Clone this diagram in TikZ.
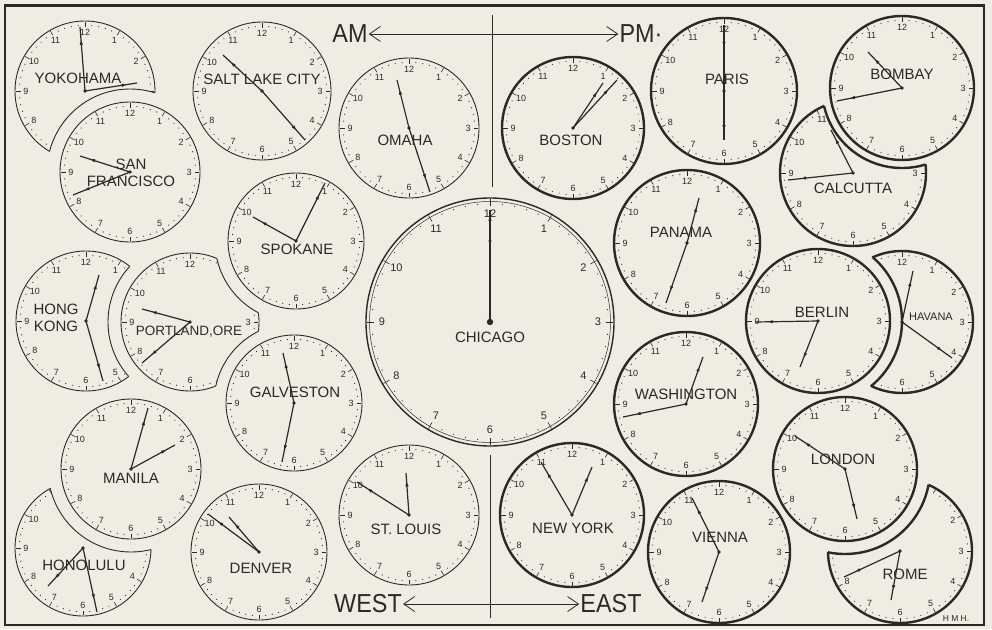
\documentclass[tikz,border=0pt]{standalone}
\usepackage{fontspec}
\setmainfont{Liberation Sans}
\newfontfamily\bigletters[FakeStretch=0.9]{Liberation Sans}
\usetikzlibrary{arrows.meta,decorations.markings}
\definecolor{ink}{HTML}{2A2926}
\definecolor{paper}{HTML}{EFEDE3}
\tikzset{
  hourtick/.style={ink, line width=0.6pt},
  numeral/.style={font=\fontsize{9}{9}\selectfont, text=ink, inner sep=0pt},
  city/.style={font=\fontsize{15}{17}\selectfont, text=ink, inner sep=0pt, align=center},
  big/.style={font=\bigletters\fontsize{26}{26}\selectfont, text=ink, inner sep=1pt},
  hand/.style={ink, line width=1.2pt, postaction={decorate},
    decoration={markings, mark=at position #1 with {\arrow{Latex[length=5pt,width=3.6pt]}}}},
  hand/.default=0.8,
  twoway/.style={{Straight Barb[length=11pt,width=15pt]}-{Straight Barb[length=11pt,width=15pt]},
    ink, line width=0.8pt},
  divider/.style={ink, line width=0.8pt},
}
\newcommand{\numgap}{11}
\newcommand{\dotgap}{4.3}
\newcommand{\tickgap}{5.5}
% bites taken out of the dial being drawn (far away = none)
\def\ax{-900}\def\ay{-900}\def\ar{1}
\def\bx{-900}\def\by{-900}\def\br{1}
% name, x, y, radius, rim width
\newcommand{\dial}[5]{%
  \coordinate (#1) at (#2,#3);
  \draw[ink, line width=#5] (#1) circle (#4);
  \foreach \m in {0,...,59} {
    \pgfmathtruncatemacro\hr{mod(\m,5)}
    \ifnum\hr=0
      \draw[hourtick] ({#2+(#4-1)*sin(6*\m)},{#3-(#4-1)*cos(6*\m)})
        -- ({#2+(#4-\tickgap)*sin(6*\m)},{#3-(#4-\tickgap)*cos(6*\m)});
    \else
      \fill[ink] ({#2+(#4-\dotgap)*sin(6*\m)},{#3-(#4-\dotgap)*cos(6*\m)}) circle (0.6);
    \fi
  }
  \foreach \h in {1,...,12} {
    \pgfmathsetmacro\px{#2+(#4-\numgap)*sin(30*\h)}
    \pgfmathsetmacro\py{#3-(#4-\numgap)*cos(30*\h)}
    \pgfmathtruncatemacro\shown{and(veclen(\px-\ax,\py-\ay)>\ar+5.5, veclen(\px-\bx,\py-\by)>\br+5.5)}
    \ifnum\shown=1 \node[numeral] (#1-\h) at (\px,\py) {\h};\fi
  }
}
% dial with a bite taken out by a neighbour: ..., neighbour x, y, clearance
\newcommand{\cutdial}[8]{%
  \begin{scope}[even odd rule]
    \def\ax{#6}\def\ay{#7}\def\ar{#8}
    \clip (-20,-20) rectangle (1012,649) (#6,#7) circle (#8);
    \dial{#1}{#2}{#3}{#4}{#5}
  \end{scope}
  \begin{scope}
    \clip (#2,#3) circle (#4);
    \draw[ink, line width=#5] (#6,#7) circle (#8);
  \end{scope}}

\begin{document}
\begin{tikzpicture}[x=1pt,y=-1pt]
  \useasboundingbox (0,0) rectangle (992,629);
  \fill[paper] (0,0) rectangle (992,629);
  \draw[ink, line width=2.2pt] (5,5.5) rectangle (984,625);

  % whole dials
  \foreach \n/\x/\y/\r/\w in {saltlake/262/91/69/0.9pt, sanfran/130/172/70/0.9pt,
      spokane/296/241/68/0.9pt, galveston/294/403/68/0.9pt, manila/131/469/70/0.9pt,
      denver/259/552/68/0.9pt, omaha/409/128/70/0.9pt, stlouis/409/515/70/0.9pt,
      boston/573/128/71/2.4pt, newyork/572/515/72/2.4pt, paris/724/91/73/2.4pt,
      bombay/902/88/72/2.4pt, panama/687/243/73/2.4pt, berlin/818/321/72/2.4pt,
      washington/686/404/72/2.4pt, london/845/469/72/2.4pt, vienna/719/552/71/2.4pt}
    \dial{\n}{\x}{\y}{\r}{\w};

  % Portland loses two bites
  \begin{scope}[even odd rule]
    \def\ax{296}\def\ay{241}\def\ar{81}\def\bx{294}\def\by{403}\def\br{80}
    \clip (-20,-20) rectangle (1012,649) (spokane) circle (81);
    \clip (-20,-20) rectangle (1012,649) (galveston) circle (80);
    \dial{portland}{190}{322}{69}{0.9pt}
  \end{scope}
  \begin{scope}[even odd rule]
    \clip (portland) circle (69);
    \clip (-20,-20) rectangle (1012,649) (galveston) circle (80);
    \draw[ink, line width=0.9pt] (spokane) circle (81);
  \end{scope}
  \begin{scope}[even odd rule]
    \clip (portland) circle (69);
    \clip (-20,-20) rectangle (1012,649) (spokane) circle (81);
    \draw[ink, line width=0.9pt] (galveston) circle (80);
  \end{scope}

  % dials cut by a neighbour
  \cutdial{yokohama}{85}{91}{70}{0.9pt}{130}{172}{83}
  \cutdial{hongkong}{86}{321}{70}{0.9pt}{190}{322}{82}
  \cutdial{honolulu}{83}{548}{68}{0.9pt}{131}{469}{83}
  \cutdial{calcutta}{853}{173}{73}{2.4pt}{902}{88}{80}
  \cutdial{havana}{902}{322}{71}{2.4pt}{818}{321}{84}
  \cutdial{rome}{900}{551}{72}{2.4pt}{845}{469}{85}

  % Chicago, large with a double rim
  \begin{scope}[numeral/.style={font=\fontsize{11}{11}\selectfont, text=ink, inner sep=0pt}]
    \renewcommand{\numgap}{16}\renewcommand{\dotgap}{6}\renewcommand{\tickgap}{8}
    \dial{chicago}{490}{322}{124}{1.4pt}
    \draw[ink, line width=0.5pt] (chicago) circle (120.5);
  \end{scope}

  \foreach \n/\dx/\dy in {yokohama/-5/-64, yokohama/52/-8, saltlake/-39/-36, saltlake/43/49,
      sanfran/-50/-16, sanfran/-57/23, spokane/-43/-24, spokane/29/-58,
      hongkong/13/-46, hongkong/17/60, portland/-48/-13, portland/-48/41,
      galveston/-11/-50, galveston/-12/59, manila/17/-61, manila/44/-24,
      honolulu/-35/38, honolulu/14/64, denver/-51/-38, denver/-30/-35,
      omaha/-12/-48, omaha/21/64, stlouis/-52/-33, stlouis/-3/-42,
      boston/30/-45, boston/44/-48, newyork/-31/-53, newyork/20/-48,
      paris/0/-66, paris/0/49, bombay/-34/-36, bombay/-65/13,
      calcutta/-22/-43, calcutta/-65/7, panama/12/-45, panama/-21/60,
      berlin/-63/1, berlin/-18/46, havana/11/-51, havana/50/36,
      washington/17/-47, washington/-63/13, london/-50/-33, london/12/50,
      vienna/-27/-54, vienna/-17/50, rome/-56/26, rome/-9/49}
    \draw[hand] (\n) -- ++(\dx,\dy);
  \draw[hand=0.95, line width=1.5pt] (chicago) -- ++(0,-112);
  \draw[hand=0.94, line width=1.5pt] (chicago) -- ++(0,-91);
  \foreach \n in {yokohama,saltlake,sanfran,spokane,hongkong,portland,galveston,manila,
      honolulu,denver,omaha,stlouis,boston,newyork,paris,bombay,calcutta,panama,
      berlin,havana,washington,london,vienna,rome}
    \fill[ink] (\n) circle (1.8);
  \fill[ink] (chicago) circle (3.2);

  \foreach \n/\x/\y/\t in {yokohama/78/78/YOKOHAMA, saltlake/262/79/{SALT LAKE CITY},
      sanfran/131/173/{SAN\\FRANCISCO}, spokane/297/249/SPOKANE, hongkong/56/318/{HONG\\KONG},
      galveston/295/392/GALVESTON, manila/131/478/MANILA,
      honolulu/84/565/HONOLULU, denver/261/568/DENVER, omaha/405/140/OMAHA,
      stlouis/406/529/{ST. LOUIS}, chicago/490/337/CHICAGO, boston/571/140/BOSTON,
      newyork/573/528/{NEW YORK}, paris/727/79/PARIS, bombay/902/74/BOMBAY,
      calcutta/853/188/CALCUTTA, panama/681/232/PANAMA, berlin/822/312/BERLIN,
      washington/686/394/WASHINGTON, london/843/459/LONDON, vienna/720/537/VIENNA,
      rome/905/574/ROME}
    \node[city] (\n-name) at (\x,\y) {\t};
  \node[city, font=\fontsize{13.5}{13.5}\selectfont] (portland-name) at (189,332) {PORTLAND,ORE};
  \node[city, font=\fontsize{11}{11}\selectfont] (havana-name) at (931,317) {HAVANA};

  \node[big] (am) at (350,34) {AM};
  \node[big] (pm) at (641,34) {PM·};
  \draw[twoway] (am) -- (pm);
  \node[big] (west) at (368,604) {WEST};
  \node[big] (east) at (611,604) {EAST};
  \draw[twoway] (west) -- (east);
  \coordinate (noontop) at (492,15);
  \coordinate (noonfoot) at (492,187);
  \draw[divider] (noontop) -- (noonfoot);
  \coordinate (midnighttop) at (490,455);
  \coordinate (midnightfoot) at (490,618);
  \draw[divider] (midnighttop) -- (midnightfoot);

  \node[font=\fontsize{8.5}{8.5}\selectfont, text=ink, inner sep=0pt] (hmh) at (956,619) {H M H.};
\end{tikzpicture}
\end{document}
